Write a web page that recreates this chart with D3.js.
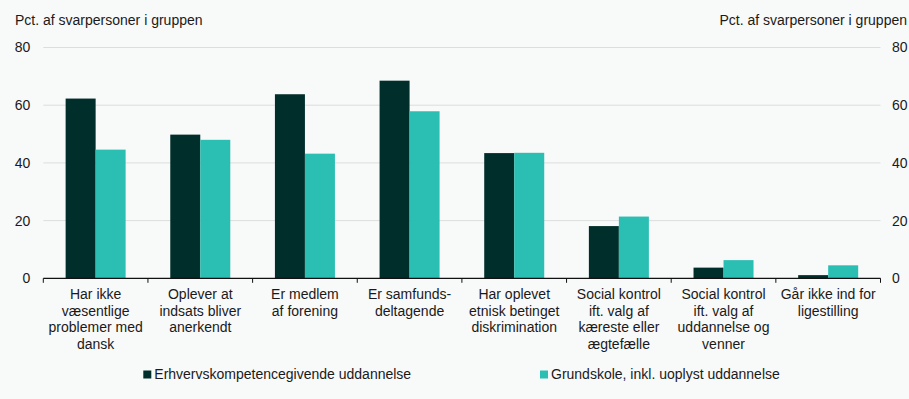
<!DOCTYPE html>
<html><head><meta charset="utf-8">
<script src="https://cdn.jsdelivr.net/npm/d3@7"></script>
<style>
html,body{margin:0;padding:0;background:#f8f9f9;}
svg{display:block;font-family:"Liberation Sans",Arial,sans-serif;}
</style></head><body>
<svg id="c" width="909" height="399"></svg>
<script>
const categories = [
  ["Har ikke","væsentlige","problemer med","dansk"],
  ["Oplever at","indsats bliver","anerkendt"],
  ["Er medlem","af forening"],
  ["Er samfunds-","deltagende"],
  ["Har oplevet","etnisk betinget","diskrimination"],
  ["Social kontrol","ift. valg af","kæreste eller","ægtefælle"],
  ["Social kontrol","ift. valg af","uddannelse og","venner"],
  ["Går ikke ind for","ligestilling"]
];
const seriesNames = ["Erhvervskompetencegivende uddannelse","Grundskole, inkl. uoplyst uddannelse"];
const erhverv = [62.3, 49.8, 63.8, 68.5, 43.4, 18.1, 3.7, 1.1];
const grundskole = [44.6, 48.0, 43.2, 57.9, 43.5, 21.4, 6.3, 4.5];
const yTicks = [0, 20, 40, 60, 80];
const axisTitle = "Pct. af svarpersoner i gruppen";
const colors = ["#002e2a", "#2bbfb3"];

(function(){
const svg = d3.select("#c");
const mLeft = 43.3, mRight = 880.5, mTop = 47.5, mBottom = 278.3;
const idx = d3.range(categories.length);
const x = d3.scaleBand().domain(idx).range([mLeft, mRight]).paddingInner(0).paddingOuter(0);
const y = d3.scaleLinear().domain([0, 80]).range([mBottom, mTop]);
const barW = 30;
const series = [erhverv, grundskole];

svg.append("g").selectAll("line").data(yTicks.filter(d => d > 0)).join("line")
  .attr("x1", mLeft).attr("x2", mRight)
  .attr("y1", d => y(d)).attr("y2", d => y(d))
  .attr("stroke", "#dcdddd").attr("stroke-width", 1);

series.forEach((vals, si) => {
  svg.append("g").selectAll("rect").data(vals).join("rect")
    .attr("x", (d, i) => x(i) + x.bandwidth() / 2 - barW + si * barW)
    .attr("width", barW)
    .attr("y", d => y(d))
    .attr("height", d => y(0) - y(d))
    .attr("fill", colors[si]);
});

const fs = 14;
const la = d3.axisLeft(y).tickValues(yTicks).tickSize(0).tickPadding(13);
svg.append("g").attr("transform", `translate(${mLeft},0)`).call(la)
  .call(g => g.select(".domain").remove())
  .call(g => g.selectAll("text").attr("font-size", fs).attr("fill", "#1a1a1a").attr("font-family", "Liberation Sans, Arial, sans-serif"));
const ra = d3.axisRight(y).tickValues(yTicks).tickSize(0).tickPadding(11.5);
svg.append("g").attr("transform", `translate(${mRight},0)`).call(ra)
  .call(g => g.select(".domain").remove())
  .call(g => g.selectAll("text").attr("font-size", fs).attr("fill", "#1a1a1a").attr("font-family", "Liberation Sans, Arial, sans-serif"));

svg.append("text").attr("x", 15).attr("y", 25).attr("font-size", fs).attr("fill", "#1a1a1a").text(axisTitle);
svg.append("text").attr("x", 907).attr("y", 25).attr("text-anchor", "end").attr("font-size", fs).attr("fill", "#1a1a1a").text(axisTitle);

svg.append("line").attr("x1", mLeft).attr("x2", mRight).attr("y1", y(0)).attr("y2", y(0)).attr("stroke", "#111").attr("stroke-width", 1.3);
const bounds = idx.map(i => x(i)).concat([mRight]);
svg.append("g").selectAll("line").data(bounds).join("line")
  .attr("x1", d => d).attr("x2", d => d).attr("y1", y(0)).attr("y2", y(0) + 4.5)
  .attr("stroke", "#111").attr("stroke-width", 1);

const lab = svg.append("g").selectAll("text").data(categories).join("text")
  .attr("text-anchor", "middle").attr("font-size", fs).attr("fill", "#1a1a1a");
lab.each(function(lines, i) {
  d3.select(this).selectAll("tspan").data(lines).join("tspan")
    .attr("x", x(i) + x.bandwidth() / 2)
    .attr("y", (d, j) => 299 + j * 16.7)
    .text(d => d);
});

const legX = [143.3, 540];
seriesNames.forEach((n, si) => {
  svg.append("rect").attr("x", legX[si]).attr("y", 370.5).attr("width", 8).attr("height", 8).attr("fill", colors[si]);
  svg.append("text").attr("x", legX[si] + 11).attr("y", 379).attr("font-size", fs).attr("fill", "#1a1a1a").text(n);
});
})();
</script>
</body></html>
